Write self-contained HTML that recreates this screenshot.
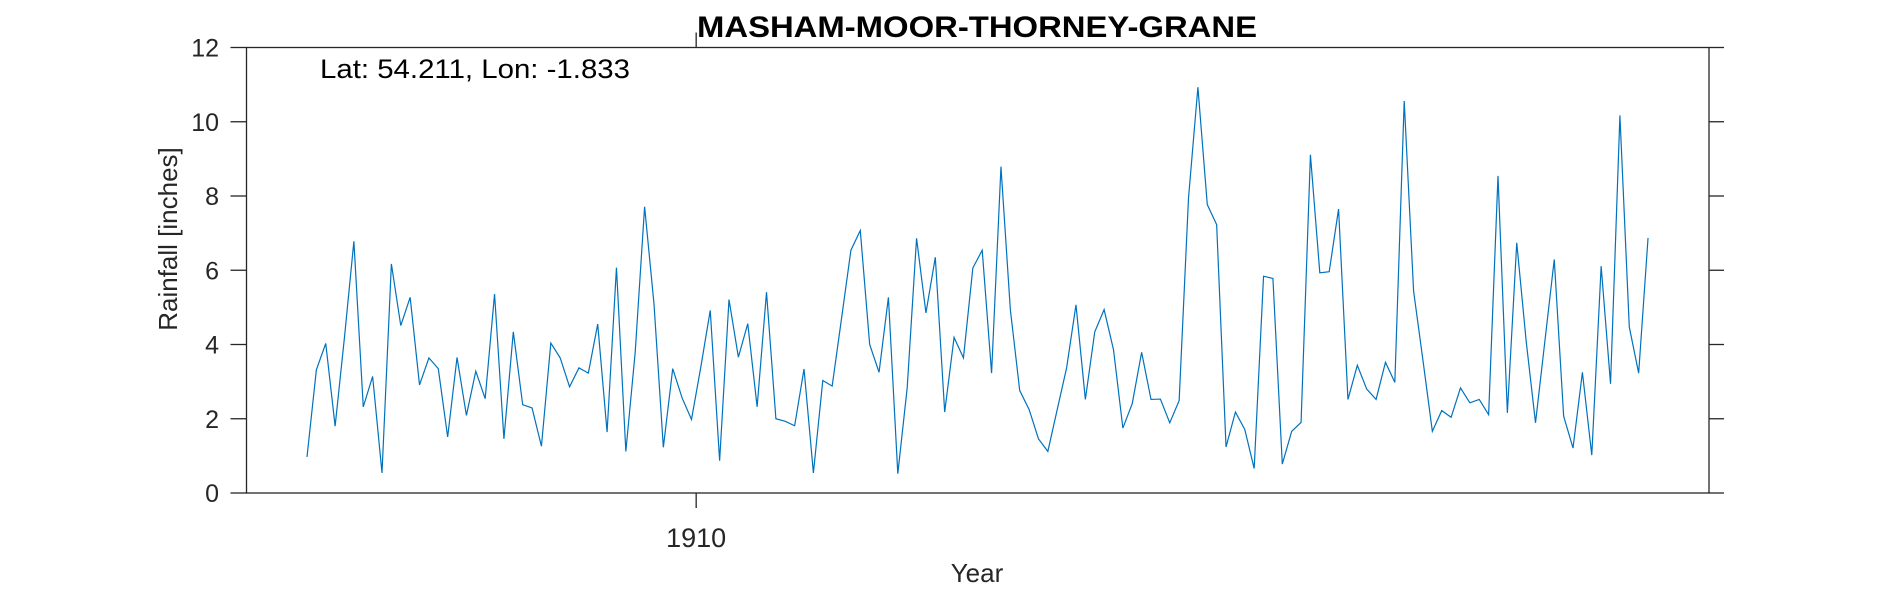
<!DOCTYPE html>
<html><head><meta charset="utf-8"><style>
html,body{margin:0;padding:0;background:#fff;}
svg{display:block;font-family:"Liberation Sans",Arial,sans-serif;}
</style></head><body>
<svg id="chart" width="1890" height="591" viewBox="0 0 1890 591" xmlns="http://www.w3.org/2000/svg">
<rect width="1890" height="591" fill="#fff"/>
<g id="axes"></g>
<g id="series"></g>
<text x="697" y="37" font-size="30" font-weight="bold" textLength="560" lengthAdjust="spacingAndGlyphs" fill="#000">MASHAM-MOOR-THORNEY-GRANE</text>
<text x="320" y="78" font-size="27" textLength="310" lengthAdjust="spacingAndGlyphs" fill="#000">Lat: 54.211, Lon: -1.833</text>
<text x="977" y="582" font-size="26" text-anchor="middle" fill="#262626">Year</text>
<text transform="translate(177,239) rotate(-90)" font-size="26" text-anchor="middle" fill="#262626">Rainfall [inches]</text>
</svg>
<script>
const startYear = 1868;
const rainfall = [0.97,3.32,4.03,1.8,4.2,6.78,2.32,3.14,0.54,6.17,4.51,5.27,2.91,3.64,3.35,1.51,3.65,2.09,3.28,2.54,5.36,1.46,4.34,2.38,2.29,1.26,4.04,3.64,2.86,3.37,3.23,4.55,1.64,6.07,1.12,3.8,7.71,5.1,1.23,3.35,2.56,1.98,3.4,4.92,0.87,5.21,
3.66,4.56,2.32,5.41,2.0,1.93,1.81,3.34,0.54,3.03,2.88,4.7,6.54,7.07,4.0,3.25,5.27,0.52,2.83,6.86,4.85,6.35,2.18,4.19,3.64,6.06,6.54,3.23,8.79,4.94,2.76,2.25,1.46,1.12,2.25,3.37,5.07,2.52,4.34,4.94,3.86,1.75,2.41,3.79,2.52,2.53,1.89,2.49,7.95,10.93,
7.77,7.23,1.24,2.18,1.71,0.66,5.84,5.78,0.78,1.66,1.9,9.11,5.93,5.96,7.65,2.52,3.44,2.8,2.52,3.52,2.98,10.56,5.44,3.57,1.66,2.22,2.04,2.83,2.43,2.52,2.11,8.54,2.16,6.74,4.1,1.89,4.09,6.29,2.07,1.21,3.25,1.02,6.11,2.94,10.17,4.47,3.23,6.87];
const yTicks = [0,2,4,6,8,10,12];
const xTicks = [1910];

const L=246.5, R=1709, T=47.5, B=493;
const xMin=1862.05, xMax=2018.0, yMin=0, yMax=12;
const xs = v => L + (v-xMin)/(xMax-xMin)*(R-L);
const ys = v => B - (v-yMin)/(yMax-yMin)*(B-T);
const NS="http://www.w3.org/2000/svg";
const axes=document.getElementById('axes');
function mk(tag, attrs, parent){const e=document.createElementNS(NS,tag);for(const k in attrs)e.setAttribute(k,attrs[k]);parent.appendChild(e);return e;}

const box=mk('rect',{x:L,y:T,width:R-L,height:B-T,fill:'none',stroke:'#262626','stroke-width':1.3},axes);



yTicks.forEach(t=>{
  const y=ys(t);
  const a=mk('line',{x1:L-16,x2:L,y1:y,y2:y,stroke:'#262626','stroke-width':1.3},axes);
  
  
  const b=mk('line',{x1:R,x2:R+15,y1:y,y2:y,stroke:'#262626','stroke-width':1.3},axes);
  
  
  const tx=mk('text',{x:219,y:y+9,'font-size':25,'text-anchor':'end',fill:'#262626'},axes);
  tx.textContent=t;
  
  
});
xTicks.forEach(t=>{
  const x=xs(t);
  const a=mk('line',{x1:x,x2:x,y1:B,y2:B+15,stroke:'#262626','stroke-width':1.3},axes);
  
  
  const b=mk('line',{x1:x,x2:x,y1:T-15,y2:T,stroke:'#262626','stroke-width':1.3},axes);
  
  
  const tx=mk('text',{x:x,y:547,'font-size':27,'text-anchor':'middle',fill:'#262626'},axes);
  tx.textContent=t;
  
  
});

const pts=rainfall.map((v,i)=>xs(startYear+i+0.5).toFixed(2)+','+ys(v).toFixed(2)).join(' ');
const line=mk('polyline',{points:pts,fill:'none',stroke:'#0072BD','stroke-width':1.2,'stroke-linejoin':'miter'},document.getElementById('series'));


</script>
</body></html>
